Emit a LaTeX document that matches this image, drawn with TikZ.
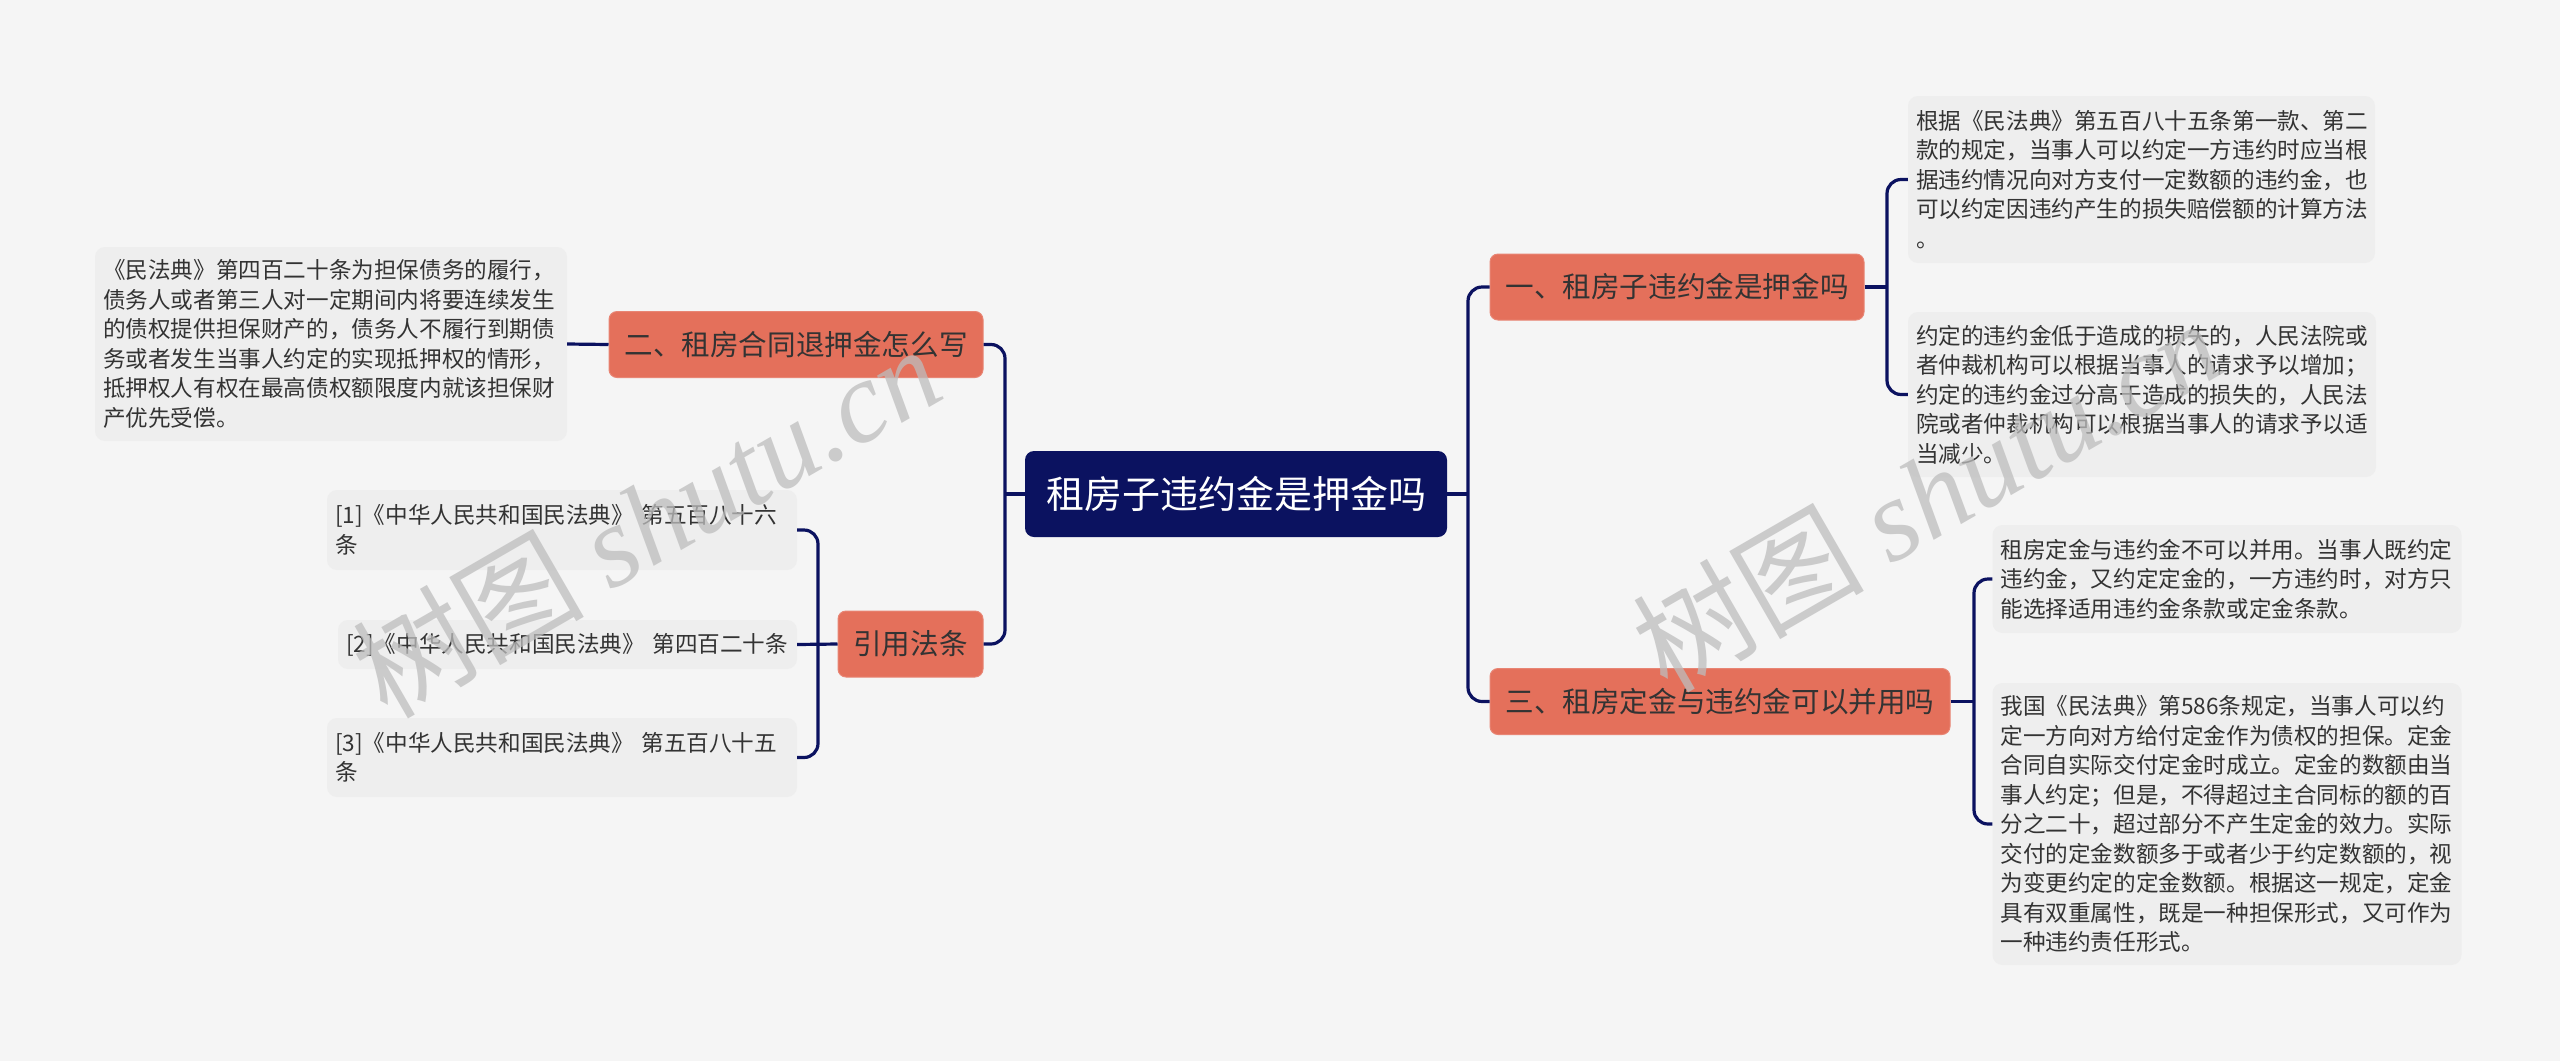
\documentclass[tikz,border=0pt]{standalone}
\usepackage{fontspec}
\setmainfont{Noto Sans CJK SC}
\newfontfamily\wmserif{Liberation Serif}
\definecolor{bgc}{HTML}{F5F5F5}
\definecolor{boxc}{HTML}{EEEEEE}
\definecolor{navy}{HTML}{0B1260}
\definecolor{salmon}{HTML}{E4705B}
\definecolor{txt}{HTML}{333333}
\definecolor{wmc}{HTML}{BDBDBD}
\begin{document}
\begin{tikzpicture}[x=1pt,y=-1pt,
  conn/.style={draw=navy, line width=3.2pt, rounded corners=14pt},
  tbox/.style={fill=boxc, rounded corners=10pt, text=txt, align=left, inner xsep=8pt, inner ysep=0pt, anchor=center, font=\fontsize{22.6}{29.5}\selectfont},
  branch/.style={fill=salmon, draw=salmon!85!white, line width=1pt, rounded corners=8pt, text=txt, inner sep=0pt, minimum height=66pt, anchor=center, font=\fontsize{28.6}{34}\selectfont},
  rootbox/.style={fill=navy, rounded corners=9pt, text=white, inner sep=0pt, minimum width=422pt, minimum height=86pt, anchor=center, font=\fontsize{38}{44}\selectfont},
  wm/.style={text=wmc, opacity=0.75, rotate=30, anchor=center, font=\fontsize{116}{120}\selectfont}
]
\fill[bgc] (0,0) rectangle (2560,1061);

% root
\node[rootbox] (root) at (1236,494) {租房子违约金是押金吗};

% branches
\node[branch, minimum width=374pt] (b1) at (1677,287) {一、租房子违约金是押金吗};
\node[branch, minimum width=460pt] (b3) at (1720,701.5) {三、租房定金与违约金可以并用吗};
\node[branch, minimum width=374pt] (b2) at (796,344.5) {二、租房合同退押金怎么写};
\node[branch, minimum width=145pt] (b4) at (910.5,644) {引用法条};

% leaves left
\node[tbox, text width=456pt, minimum height=194pt] (l1) at (331,344) {《民法典》第四百二十条为担保债务的履行，\\债务人或者第三人对一定期间内将要连续发生\\的债权提供担保财产的，债务人不履行到期债\\务或者发生当事人约定的实现抵押权的情形，\\抵押权人有权在最高债权额限度内就该担保财\\产优先受偿。};

\node[tbox, text width=454pt, minimum height=80pt] (c1) at (562,530) {[1]《中华人民共和国民法典》 第五百八十六\\条};
\node[tbox, text width=443pt, minimum height=49pt] (c2) at (567.5,644.5) {[2]《中华人民共和国民法典》 第四百二十条};
\node[tbox, text width=454pt, minimum height=79pt] (c3) at (562,757.5) {[3]《中华人民共和国民法典》 第五百八十五\\条};

% leaves right
\node[tbox, text width=451pt, minimum height=167pt] (r1) at (2141.5,179.5) {根据《民法典》第五百八十五条第一款、第二\\款的规定，当事人可以约定一方违约时应当根\\据违约情况向对方支付一定数额的违约金，也\\可以约定因违约产生的损失赔偿额的计算方法\\。};
\node[tbox, text width=452pt, minimum height=165pt] (r2) at (2142,394.5) {约定的违约金低于造成的损失的，人民法院或\\者仲裁机构可以根据当事人的请求予以增加；\\约定的违约金过分高于造成的损失的，人民法\\院或者仲裁机构可以根据当事人的请求予以适\\当减少。};
\node[tbox, text width=453pt, minimum height=108pt] (r3) at (2227,579) {租房定金与违约金不可以并用。当事人既约定\\违约金，又约定定金的，一方违约时，对方只\\能选择适用违约金条款或定金条款。};
\node[tbox, text width=453pt, minimum height=282pt] (r4) at (2227,824) {我国《民法典》第586条规定，当事人可以约\\定一方向对方给付定金作为债权的担保。定金\\合同自实际交付定金时成立。定金的数额由当\\事人约定；但是，不得超过主合同标的额的百\\分之二十，超过部分不产生定金的效力。实际\\交付的定金数额多于或者少于约定数额的，视\\为变更约定的定金数额。根据这一规定，定金\\具有双重属性，既是一种担保形式，又可作为\\一种违约责任形式。};

% junctions
\coordinate (jL) at (1005,494);
\coordinate (jR) at (1468,494);
\coordinate (j1) at (1887,287);
\coordinate (j2) at (1974,701.5);
\coordinate (j3) at (818,644);

% connectors
\draw[conn] (root.west) -- (jL);
\draw[conn] (b2.east) -| (jL) |- (b4.east);
\draw[conn] (root.east) -- (jR);
\draw[conn] (b1.west) -| (jR) |- (b3.west);
\draw[conn] (b1.east) -- (j1);
\draw[conn] (r1.west) -| (j1) |- (r2.west);
\draw[conn] (b3.east) -- (j2);
\draw[conn] (r3.west) -| (j2) |- (r4.west);
\draw[conn] (c1.east) -| (j3) |- (c3.east);
\draw[conn] (b4.west) -- (c2.east);
\draw[conn] (b2.west) -- (l1.east);

% watermarks
\node[wm] (wm1) at (646,520) {树图 {\wmserif\itshape shutu.cn}};
\node[wm] (wm2) at (1926,494) {树图 {\wmserif\itshape shutu.cn}};
\end{tikzpicture}
\end{document}
